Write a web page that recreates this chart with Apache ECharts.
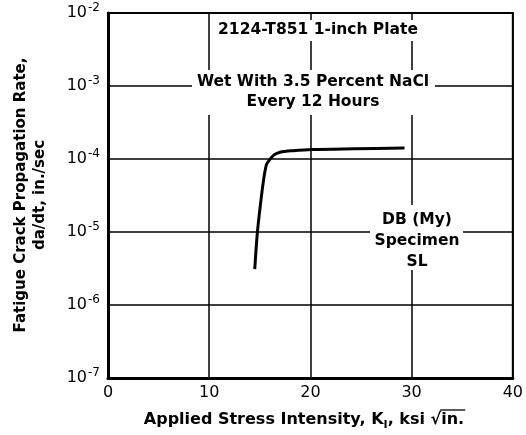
<!DOCTYPE html>
<html>
<head>
<meta charset="utf-8">
<script src="https://cdn.jsdelivr.net/npm/echarts@6/dist/echarts.min.js"></script>
<style>
  html, body { margin: 0; padding: 0; background: #fff; }
  #chart { width: 526px; height: 435px; }
</style>
</head>
<body>
<div id="chart"></div>
<script>
// stress intensity K (ksi sqrt(in.)) and da/dt (in./sec)
var stressK = [14.5, 14.75, 15.05, 15.35, 15.65, 15.95, 16.4, 17.0, 18.3, 20.2, 24.4, 29.3]
var crackRate = [3.1e-6, 9.5e-6, 2.3e-5, 4.9e-5, 8.3e-5, 9.7e-5, 1.14e-4, 1.24e-4, 1.3e-4, 1.35e-4, 1.38e-4, 1.41e-4]
var xTicks = [0, 10, 20, 30, 40]
var yExponents = [-7, -6, -5, -4, -3, -2]

var font = 'DejaVu Sans'
var noteFont = 'bold 15.5px "DejaVu Sans"'
var chart = echarts.init(document.getElementById('chart'))

// measure text so the x axis title (with subscript and root sign) can be laid out by hand
var ctx = document.createElement('canvas').getContext('2d')
function textW(t, f) { ctx.font = f; return ctx.measureText(t).width }

var nameFont = 'bold 16px "DejaVu Sans"'
var subFont = 'bold 11px "DejaVu Sans"'
var parts = [
  { t: 'Applied Stress Intensity, K', f: nameFont, dy: 0 },
  { t: 'I', f: subFont, dy: 5 },
  { t: ', ksi ', f: nameFont, dy: 0 },
  { t: '√', f: nameFont, dy: 0 },
  { t: 'in.', f: nameFont, dy: 0 }
]
var total = 0
parts.forEach(function(p) { p.w = textW(p.t, p.f); total += p.w })
var nameY = 420
var xName = []
var cur = 304 - total / 2
parts.forEach(function(p) {
  xName.push({
    type: 'text', x: cur, y: nameY + p.dy, z: 100,
    style: { text: p.t, font: p.f, fill: '#000', verticalAlign: 'middle' }
  })
  p.x = cur
  cur += p.w
})
var rootEnd = parts[3].x + parts[3].w
xName.push({
  type: 'line', z: 100,
  shape: { x1: rootEnd - 1, y1: nameY - 10, x2: cur + 1, y2: nameY - 10 },
  style: { stroke: '#000', lineWidth: 1.3 }
})

function box(x1, y1, x2, y2) {
  return { type: 'rect', z: 90, shape: { x: x1, y: y1, width: x2 - x1, height: y2 - y1 }, style: { fill: '#fff' } }
}

chart.setOption({
  animation: false,
  grid: {
    left: 108, right: 6, top: 13, bottom: 57,
    show: true, borderColor: '#000', borderWidth: 2
  },
  xAxis: {
    type: 'value',
    min: xTicks[0],
    max: xTicks[xTicks.length - 1],
    interval: 10,
    axisLine: { show: true, lineStyle: { color: '#000', width: 3 } },
    axisTick: { show: false },
    splitLine: { show: true, lineStyle: { color: '#000', width: 1.5 } },
    axisLabel: { color: '#000', fontFamily: font, fontSize: 16, margin: 7 }
  },
  yAxis: {
    type: 'log',
    logBase: 10,
    min: Math.pow(10, yExponents[0]),
    max: Math.pow(10, yExponents[yExponents.length - 1]),
    axisLine: { show: true, lineStyle: { color: '#000', width: 3 } },
    axisTick: { show: false },
    splitLine: { show: true, lineStyle: { color: '#000', width: 1.5 } },
    axisLabel: {
      margin: 8,
      formatter: function(v) {
        var e = Math.round(Math.log10(v))
        return '{b|10}{e|' + e + '}'
      },
      rich: {
        b: { fontFamily: font, fontSize: 16, color: '#000' },
        e: { fontFamily: font, fontSize: 12, color: '#000', verticalAlign: 'top', padding: [0, 0, 10, 1] }
      }
    }
  },
  graphic: [
    box(210, 20, 428, 41),
    box(192, 70, 435, 115),
    box(370, 205, 463, 270),
    {
      type: 'text', x: 318, y: 30, z: 100,
      style: { text: '2124-T851 1-inch Plate', font: noteFont, fill: '#000', align: 'center', verticalAlign: 'middle' }
    },
    {
      type: 'text', x: 313, y: 92, z: 100,
      style: {
        text: 'Wet With 3.5 Percent NaCl\nEvery 12 Hours', font: noteFont, fill: '#000',
        align: 'center', verticalAlign: 'middle', lineHeight: 20
      }
    },
    {
      type: 'text', x: 417, y: 241, z: 100,
      style: {
        text: 'DB (My)\nSpecimen\nSL', font: noteFont, fill: '#000',
        align: 'center', verticalAlign: 'middle', lineHeight: 21
      }
    },
    {
      type: 'text', x: 31, y: 195, z: 100, rotation: Math.PI / 2,
      style: {
        text: 'Fatigue Crack Propagation Rate,\nda/dt, in./sec', font: 'bold 15px "DejaVu Sans"', fill: '#000',
        align: 'center', verticalAlign: 'middle', lineHeight: 19
      }
    }
  ].concat(xName),
  series: [
    {
      type: 'line',
      data: stressK.map(function(k, i) { return [k, crackRate[i]] }),
      showSymbol: false,
      smooth: 0.3,
      lineStyle: { color: '#000', width: 3 }
    }
  ]
})
</script>
</body>
</html>
